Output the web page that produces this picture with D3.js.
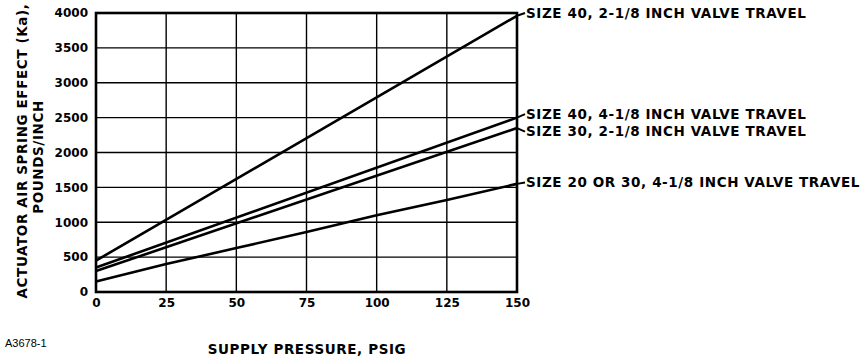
<!DOCTYPE html>
<html>
<head>
<meta charset="utf-8">
<script src="https://cdn.jsdelivr.net/npm/d3@7"></script>
<style>
  body { margin: 0; background: #fff; }
  svg { display: block; }
  text { font-family: "DejaVu Sans", sans-serif; font-weight: bold; fill: #000; }
  text.title { letter-spacing: 0.6px; }
  text.note { font-family: "Liberation Sans", Arial, sans-serif; font-weight: normal; }
</style>
</head>
<body>
<svg id="chart"></svg>
<script>
// values
var pressureTicks = [0, 25, 50, 75, 100, 125, 150];
var kaTicks = [0, 500, 1000, 1500, 2000, 2500, 3000, 3500, 4000];

var size40short = [[0, 450], [150, 3960]];
var size40long  = [[0, 350], [150, 2500]];
var size30short = [[0, 300], [150, 2350]];
var size20long  = [[0, 150], [25, 400], [50, 630], [75, 860], [100, 1100], [125, 1320], [150, 1550]];

var seriesNames = [
  "SIZE 40, 2-1/8 INCH VALVE TRAVEL",
  "SIZE 40, 4-1/8 INCH VALVE TRAVEL",
  "SIZE 30, 2-1/8 INCH VALVE TRAVEL",
  "SIZE 20 OR 30, 4-1/8 INCH VALVE TRAVEL"
];
var labelValues = [4000, 2550, 2300, 1570];  // where each label sits on the value scale

function loadChart() {
  const width = 861, height = 356;
  const margin = {left: 96, right: 344, top: 13, bottom: 64};

  const svg = d3.select("#chart").attr("width", width).attr("height", height);

  const x = d3.scaleLinear().domain([0, 150]).range([margin.left, width - margin.right]);
  const y = d3.scaleLinear().domain([0, 4000]).range([height - margin.bottom, margin.top]);

  // grid
  const grid = svg.append("g");
  grid.selectAll("line.v").data(pressureTicks).enter().append("line")
    .attr("x1", d => x(d)).attr("x2", d => x(d))
    .attr("y1", y(0)).attr("y2", y(4000))
    .attr("stroke", "#000").attr("stroke-width", 1.4);
  grid.selectAll("line.h").data(kaTicks).enter().append("line")
    .attr("x1", x(0)).attr("x2", x(150))
    .attr("y1", d => y(d)).attr("y2", d => y(d))
    .attr("stroke", "#000").attr("stroke-width", 1.4);

  // frame
  svg.append("rect")
    .attr("x", x(0)).attr("y", y(4000))
    .attr("width", x(150) - x(0)).attr("height", y(0) - y(4000))
    .attr("fill", "none").attr("stroke", "#000").attr("stroke-width", 2.6);

  // axes
  const xAxis = d3.axisBottom(x).tickValues(pressureTicks).tickFormat(d3.format("d")).tickSize(0).tickPadding(6);
  svg.append("g").attr("transform", `translate(0,${y(0)})`).call(xAxis)
    .call(g => g.select(".domain").remove())
    .selectAll("text").attr("font-size", 12);

  const yAxis = d3.axisLeft(y).tickValues(kaTicks).tickFormat(d3.format("d")).tickSize(0).tickPadding(8);
  svg.append("g").attr("transform", `translate(${x(0)},0)`).call(yAxis)
    .call(g => g.select(".domain").remove())
    .selectAll("text").attr("font-size", 12);

  // lines
  const line = d3.line().x(d => x(d[0])).y(d => y(d[1]));
  const allSeries = [size40short, size40long, size30short, size20long];
  svg.selectAll("path.series").data(allSeries).enter().append("path")
    .attr("class", "series")
    .attr("d", line)
    .attr("fill", "none").attr("stroke", "#000").attr("stroke-width", 2.6);

  // leaders + labels
  allSeries.forEach(function (s, i) {
    const last = s[s.length - 1];
    svg.append("line")
      .attr("x1", x(last[0])).attr("y1", y(last[1]))
      .attr("x2", x(last[0]) + 8).attr("y2", y(labelValues[i]))
      .attr("stroke", "#000").attr("stroke-width", 2);
    svg.append("text")
      .attr("class", "title")
      .attr("x", x(last[0]) + 9).attr("y", y(labelValues[i]))
      .attr("dy", "0.36em")
      .attr("font-size", 13.5)
      .text(seriesNames[i]);
  });

  // axis titles
  svg.append("text")
    .attr("class", "title")
    .attr("transform", "translate(27,151) rotate(-90)")
    .attr("text-anchor", "middle").attr("font-size", 13.5)
    .text("ACTUATOR AIR SPRING EFFECT (Ka),");
  svg.append("text")
    .attr("class", "title")
    .attr("transform", "translate(43,157) rotate(-90)")
    .attr("text-anchor", "middle").attr("font-size", 13.5)
    .text("POUNDS/INCH");
  svg.append("text")
    .attr("class", "title")
    .attr("x", 307).attr("y", 354)
    .attr("text-anchor", "middle").attr("font-size", 13.5)
    .text("SUPPLY PRESSURE, PSIG");
  svg.append("text")
    .attr("class", "note")
    .attr("x", 5).attr("y", 347)
    .attr("font-size", 11)
    .text("A3678-1");
}
loadChart();
</script>
</body>
</html>
